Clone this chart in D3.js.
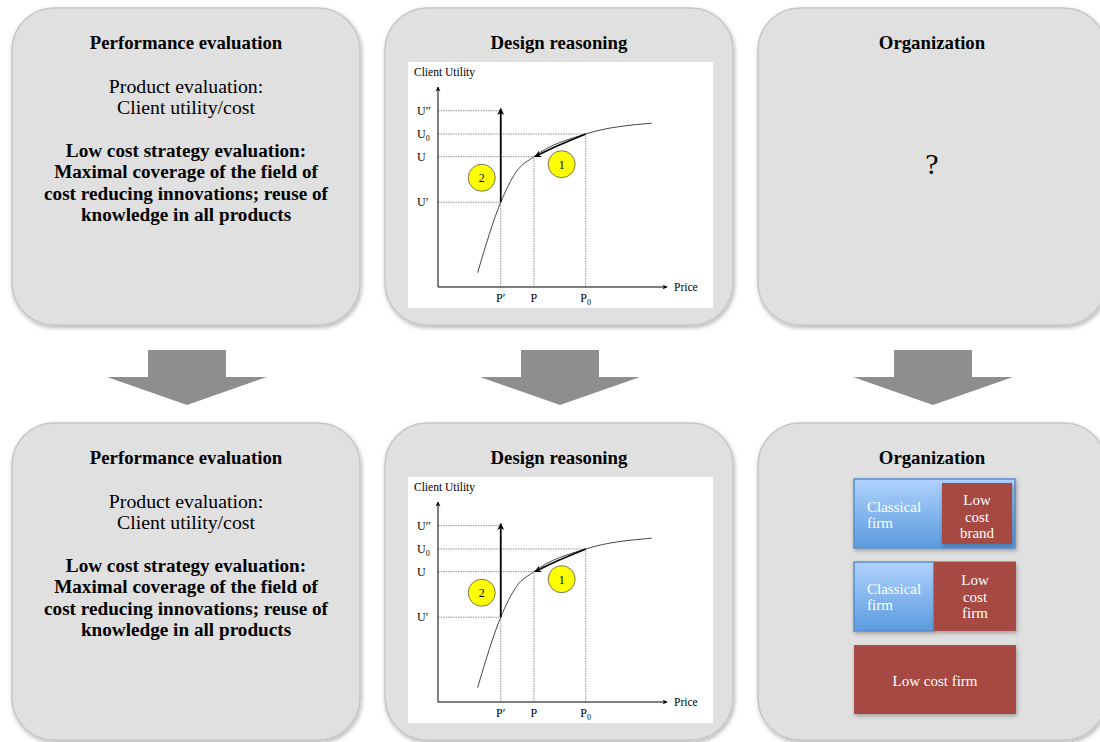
<!DOCTYPE html>
<html>
<head>
<meta charset="utf-8">
<script src="https://cdn.jsdelivr.net/npm/d3@7"></script>
<style>
  body { margin: 0; background: #fff; }
  text { font-family: "Palatino Linotype", "Book Antiqua", Palatino, "Liberation Serif", serif; }
</style>
</head>
<body>
<div id="chart"></div>
<script>
var svgWidth = 1100;
var svgHeight = 742;

// panel grid
var columns = ["Performance evaluation", "Design reasoning", "Organization"];
var rows = ["before", "after"];

// performance text
var productLines = ["Product evaluation:", "Client utility/cost"];
var strategyLines = ["Low cost strategy evaluation:", "Maximal coverage of the field of",
                     "cost reducing innovations; reuse of", "knowledge in all products"];

// design reasoning chart (arbitrary units 0..100)
var utilityLabels = [["U\u2032\u2032", ""], ["U", "0"], ["U", ""], ["U\u2032", ""]];
var utilityValues = [88.6, 76.9, 65.5, 42.6];
var priceLabels = [["P\u2032", ""], ["P", ""], ["P", "0"]];
var priceValues = [27.4, 41.9, 64.5];
var curvePrice = [17.3, 27.4, 34.2, 41.9, 64.5, 93.3];
var curveUtility = [7.2, 42.6, 57.9, 65.5, 76.9, 82.3];
var stepLabels = ["1", "2"];
var stepPrice = [54.0, 19.1];
var stepUtility = [61.7, 54.9];

// organization variants
var orgVariants = ["Low cost brand", "Low cost firm", "Low cost firm only"];

var svg = d3.select("#chart")
  .append("svg")
  .attr("width", svgWidth)
  .attr("height", svgHeight);

var defs = svg.append("defs");
var shadow = defs.append("filter").attr("id", "shadow")
  .attr("x", "-10%").attr("y", "-10%").attr("width", "120%").attr("height", "120%");
shadow.append("feDropShadow").attr("dx", 1).attr("dy", 2).attr("stdDeviation", 2)
  .attr("flood-color", "#000").attr("flood-opacity", 0.3);

var blueGrad = defs.append("linearGradient").attr("id", "blue")
  .attr("x1", 0).attr("y1", 0).attr("x2", 0).attr("y2", 1);
blueGrad.append("stop").attr("offset", "0%").attr("stop-color", "#b0d2fd");
blueGrad.append("stop").attr("offset", "100%").attr("stop-color", "#5b9bde");

defs.append("marker").attr("id", "head")
  .attr("viewBox", "0 0 10 10").attr("refX", 9).attr("refY", 5)
  .attr("markerWidth", 5).attr("markerHeight", 5).attr("orient", "auto")
  .attr("markerUnits", "userSpaceOnUse")
  .append("path").attr("d", "M0,0 L10,5 L0,10 L3,5 Z").attr("fill", "#000");
defs.append("marker").attr("id", "headSmall")
  .attr("viewBox", "0 0 10 10").attr("refX", 9).attr("refY", 5)
  .attr("markerWidth", 7).attr("markerHeight", 7).attr("orient", "auto")
  .attr("markerUnits", "userSpaceOnUse")
  .append("path").attr("d", "M0,0 L10,5 L0,10 L3,5 Z").attr("fill", "#000");

var panelW = 348, panelH = 317;
var colX = d3.scalePoint().domain(columns).range([12, 758]);
var rowY = d3.scalePoint().domain(rows).range([8, 423]);

rows.forEach(function(r) {
  columns.forEach(function(c) {
    svg.append("rect")
      .attr("x", colX(c)).attr("y", rowY(r))
      .attr("width", panelW).attr("height", panelH)
      .attr("rx", 42).attr("ry", 42)
      .attr("fill", "#e0e0e0")
      .attr("stroke", "#c6c6c6").attr("stroke-width", 1.5)
      .attr("filter", "url(#shadow)");
    svg.append("text")
      .attr("x", colX(c) + panelW / 2).attr("y", rowY(r) + 41)
      .attr("text-anchor", "middle")
      .attr("font-size", 18.8).attr("font-weight", "bold")
      .text(c);
  });
});

// block arrows between rows
columns.forEach(function(c) {
  var cx = colX(c) + panelW / 2 + 1;
  var pts = [[-39, 0], [39, 0], [39, 27], [80, 27], [0, 55], [-80, 27], [-39, 27]];
  svg.append("path")
    .attr("d", d3.line()(pts.map(p => [cx + p[0], 350 + p[1]])) + "Z")
    .attr("fill", "#8e8e8e");
});

// performance evaluation panels
rows.forEach(function(r) {
  var g = svg.append("g").attr("transform", `translate(${colX(columns[0]) + panelW / 2}, ${rowY(r)})`);
  g.selectAll(".prod").data(productLines).enter().append("text")
    .attr("y", (d, i) => 85 + i * 21)
    .attr("text-anchor", "middle").attr("font-size", 19.8)
    .text(d => d);
  g.selectAll(".strat").data(strategyLines).enter().append("text")
    .attr("y", (d, i) => 149 + i * 21.4)
    .attr("text-anchor", "middle").attr("font-size", 19.2).attr("font-weight", "bold")
    .text(d => d);
});

function subLabel(sel, d) {
  sel.text(d[0]);
  if (d[1]) sel.append("tspan").attr("font-size", 8).attr("dy", 3).text(d[1]);
}

// design reasoning chart
rows.forEach(function(r) {
  var g = svg.append("g").attr("transform", `translate(408, ${rowY(r) + 54})`);
  g.append("rect").attr("width", 305).attr("height", 246).attr("fill", "#fff");

  var x = d3.scaleLinear().domain([0, 100]).range([30, 259]);
  var y = d3.scaleLinear().domain([0, 100]).range([225, 26]);

  g.append("text").attr("x", 6).attr("y", 14).attr("font-size", 11.5).text("Client Utility");
  g.append("text").attr("x", 266).attr("y", 229).attr("font-size", 11.5).text("Price");

  // guides
  var guide = g.append("g").attr("stroke", "#777").attr("stroke-width", 0.8)
    .attr("stroke-dasharray", "1.5,1");
  var guideX = [priceValues[0], priceValues[2], priceValues[1], priceValues[0]];
  utilityValues.forEach(function(u, i) {
    guide.append("line").attr("x1", x(0)).attr("x2", x(guideX[i]))
      .attr("y1", y(u)).attr("y2", y(u));
  });
  var guideY = [utilityValues[3], utilityValues[2], utilityValues[1]];
  priceValues.forEach(function(p, i) {
    guide.append("line").attr("x1", x(p)).attr("x2", x(p))
      .attr("y1", y(0)).attr("y2", y(guideY[i]));
  });

  // axes
  g.append("line").attr("x1", x(0)).attr("x2", x(0)).attr("y1", y(0)).attr("y2", y(0) - 200)
    .attr("stroke", "#000").attr("stroke-width", 1).attr("marker-end", "url(#head)");
  g.append("line").attr("x1", x(0)).attr("x2", x(100)).attr("y1", y(0)).attr("y2", y(0))
    .attr("stroke", "#000").attr("stroke-width", 1).attr("marker-end", "url(#head)");

  utilityLabels.forEach(function(d, i) {
    g.append("text").attr("x", 9).attr("y", y(utilityValues[i]) + 4)
      .attr("font-size", 12).call(subLabel, d);
  });
  priceLabels.forEach(function(d, i) {
    g.append("text").attr("x", x(priceValues[i])).attr("y", 240)
      .attr("text-anchor", "middle").attr("font-size", 12).call(subLabel, d);
  });

  // curve
  var pts = curvePrice.map((p, i) => [x(p), y(curveUtility[i])]);
  g.append("path").attr("d", d3.line().curve(d3.curveMonotoneX)(pts))
    .attr("fill", "none").attr("stroke", "#333").attr("stroke-width", 0.9);

  // move 1: along curve from (P0,U0) to (P,U)
  g.append("path")
    .attr("d", d3.line().curve(d3.curveBasis)([
      [x(priceValues[2]), y(utilityValues[1])],
      [x(52), y(71)],
      [x(priceValues[1]) + 1, y(utilityValues[2])]]))
    .attr("fill", "none").attr("stroke", "#000").attr("stroke-width", 1.6)
    .attr("marker-end", "url(#headSmall)");
  // move 2: vertical jump at P'
  g.append("line")
    .attr("x1", x(priceValues[0])).attr("x2", x(priceValues[0]))
    .attr("y1", y(utilityValues[3])).attr("y2", y(utilityValues[0]) - 2)
    .attr("stroke", "#000").attr("stroke-width", 1.8).attr("marker-end", "url(#headSmall)");

  stepLabels.forEach(function(s, i) {
    g.append("circle").attr("cx", x(stepPrice[i])).attr("cy", y(stepUtility[i]))
      .attr("r", 13.5).attr("fill", "#ffff00").attr("stroke", "#555").attr("stroke-width", 0.8);
    g.append("text").attr("x", x(stepPrice[i])).attr("y", y(stepUtility[i]) + 4.5)
      .attr("text-anchor", "middle").attr("font-size", 12).text(s);
  });
});

// organization: top panel
svg.append("text")
  .attr("x", colX(columns[2]) + panelW / 2).attr("y", rowY("before") + 166)
  .attr("text-anchor", "middle").attr("font-size", 30).text("?");

// organization: bottom panel
var orgG = svg.append("g").attr("transform", `translate(854, 0)`);
var boxY = d3.scaleBand().domain(orgVariants).range([479, 714]).paddingInner(0.17);
var red = "#a64a43";

function multiline(g, lines, x, y0, step, anchor) {
  lines.forEach(function(l, i) {
    g.append("text").attr("x", x).attr("y", y0 + i * step)
      .attr("text-anchor", anchor).attr("font-size", 15).attr("fill", "#fff").text(l);
  });
}

// variant 1: brand inside classical firm
var y1 = boxY(orgVariants[0]), bh = boxY.bandwidth();
orgG.append("rect").attr("x", 0).attr("y", y1).attr("width", 161).attr("height", bh)
  .attr("fill", "url(#blue)").attr("stroke", "#5a8fd0").attr("stroke-width", 1.5)
  .attr("filter", "url(#shadow)");
orgG.append("rect").attr("x", 88).attr("y", y1 + 4).attr("width", 70).attr("height", bh - 8)
  .attr("fill", red).attr("filter", "url(#shadow)");
multiline(orgG, ["Classical", "firm"], 13, y1 + 33, 15.5, "start");
multiline(orgG, ["Low", "cost", "brand"], 123, y1 + 26, 16.5, "middle");

// variant 2: classical firm beside low cost firm
var y2 = boxY(orgVariants[1]);
orgG.append("rect").attr("x", 0).attr("y", y2).attr("width", 80).attr("height", bh)
  .attr("fill", "url(#blue)").attr("stroke", "#5a8fd0").attr("stroke-width", 1.5)
  .attr("filter", "url(#shadow)");
orgG.append("rect").attr("x", 80).attr("y", y2 - 0.5).attr("width", 82).attr("height", bh + 0.5)
  .attr("fill", red).attr("filter", "url(#shadow)");
multiline(orgG, ["Classical", "firm"], 13, y2 + 32, 15.5, "start");
multiline(orgG, ["Low", "cost", "firm"], 121, y2 + 23, 16.5, "middle");

// variant 3: low cost firm alone
var y3 = boxY(orgVariants[2]);
orgG.append("rect").attr("x", 0).attr("y", y3).attr("width", 162).attr("height", bh)
  .attr("fill", red).attr("filter", "url(#shadow)");
multiline(orgG, ["Low cost firm"], 81, y3 + 41, 0, "middle");
</script>
</body>
</html>
